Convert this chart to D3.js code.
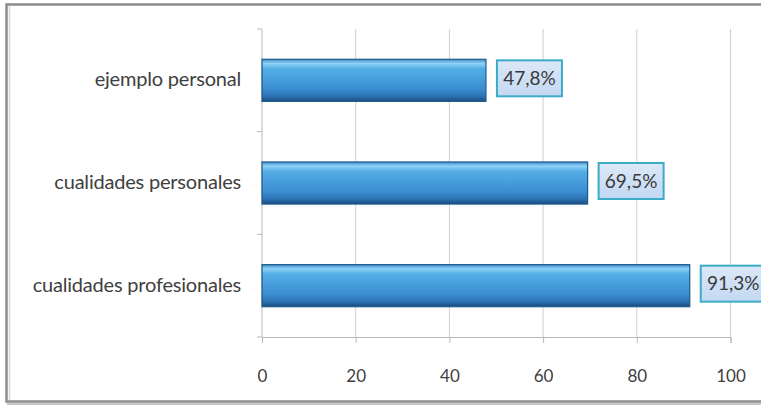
<!DOCTYPE html>
<html>
<head>
<meta charset="utf-8">
<script src="https://cdn.jsdelivr.net/npm/d3@7"></script>
<style>
  body { margin: 0; background: #fff; overflow: hidden; }
  svg { display: block; }
</style>
</head>
<body>
<div id="chart"></div>
<script>
const categories = ["ejemplo personal", "cualidades personales", "cualidades profesionales"];
const values = [47.8, 69.5, 91.3];
const xTicks = [0, 20, 40, 60, 80, 100];

const W = 761, H = 409;
const margin = { top: 29, right: 30, bottom: 72, left: 262 };
const width = W - margin.left - margin.right;
const height = H - margin.top - margin.bottom;

const data = categories.map((c, i) => ({ cat: c, val: values[i] }));
const esFmt = d3.formatLocale({ decimal: ",", thousands: ".", grouping: [3], currency: ["", "€"] }).format(".1f");

const svg = d3.select("#chart").append("svg")
  .attr("width", W)
  .attr("height", H);

// outer frame (right side is cut off in the original picture)
svg.append("rect")
  .attr("x", 6.5).attr("y", 4.5)
  .attr("width", 790).attr("height", 397)
  .attr("fill", "#fff")
  .attr("stroke", "#8c8c8c")
  .attr("stroke-width", 2.5);
svg.append("line")
  .attr("x1", 7).attr("x2", 790)
  .attr("y1", 404).attr("y2", 404)
  .attr("stroke", "#c4c4c4").attr("stroke-width", 2);
svg.append("line")
  .attr("x1", 9.5).attr("x2", 9.5)
  .attr("y1", 6).attr("y2", 400)
  .attr("stroke", "#d6d6d6").attr("stroke-width", 1.5);

const defs = svg.append("defs");
const grad = defs.append("linearGradient")
  .attr("id", "barGrad")
  .attr("x1", 0).attr("y1", 0).attr("x2", 0).attr("y2", 1);
grad.append("stop").attr("offset", "0%").attr("stop-color", "#3f8ccc");
grad.append("stop").attr("offset", "10%").attr("stop-color", "#8ed2f6");
grad.append("stop").attr("offset", "22%").attr("stop-color", "#55aee6");
grad.append("stop").attr("offset", "70%").attr("stop-color", "#3a8ed2");
grad.append("stop").attr("offset", "88%").attr("stop-color", "#2c72b2");
grad.append("stop").attr("offset", "100%").attr("stop-color", "#184c7e");

const boxGrad = defs.append("linearGradient")
  .attr("id", "boxGrad")
  .attr("x1", 0).attr("y1", 0).attr("x2", 0).attr("y2", 1);
boxGrad.append("stop").attr("offset", "0%").attr("stop-color", "#dbe8f8");
boxGrad.append("stop").attr("offset", "100%").attr("stop-color", "#c3d8f2");

const g = svg.append("g")
  .attr("transform", `translate(${margin.left},${margin.top})`);

const x = d3.scaleLinear().domain([0, 100]).range([0, width - 0.5]);
const y = d3.scaleBand().domain(categories).range([0, height]).paddingInner(0.59).paddingOuter(0.295);

// vertical gridlines
g.append("g")
  .selectAll("line")
  .data(xTicks.slice(1))
  .enter().append("line")
  .attr("x1", d => x(d)).attr("x2", d => x(d))
  .attr("y1", 0).attr("y2", height)
  .attr("stroke", "#d0d0d0")
  .attr("stroke-width", 1);

// x axis
const xAxis = g.append("g")
  .attr("transform", `translate(0,${height})`)
  .call(d3.axisBottom(x).tickValues(xTicks).tickSize(6).tickPadding(27));
xAxis.select(".domain").attr("stroke", "#b8b8b8");
xAxis.selectAll(".tick line").attr("stroke", "#b8b8b8");
xAxis.selectAll(".tick text")
  .attr("fill", "#404040")
  .style("font-family", "Lato, 'Open Sans', sans-serif")
  .style("font-size", "17px");

// y axis with ticks between categories
const yAxis = g.append("g");
yAxis.append("line")
  .attr("x1", 0).attr("x2", 0).attr("y1", 0).attr("y2", height)
  .attr("stroke", "#b8b8b8");
yAxis.selectAll(".sep")
  .data(d3.range(categories.length + 1))
  .enter().append("line")
  .attr("class", "sep")
  .attr("x1", -5).attr("x2", 0)
  .attr("y1", d => d * height / categories.length)
  .attr("y2", d => d * height / categories.length)
  .attr("stroke", "#b8b8b8");
yAxis.selectAll(".cat")
  .data(categories)
  .enter().append("text")
  .attr("class", "cat")
  .attr("x", -21)
  .attr("y", d => y(d) + y.bandwidth() / 2 - 1)
  .attr("dy", "0.35em")
  .attr("text-anchor", "end")
  .attr("fill", "#404040")
  .style("font-family", "Lato, 'Open Sans', sans-serif")
  .style("font-size", "20px")
  .style("letter-spacing", "-0.2px")
  .text(d => d);

// bars
g.selectAll(".bar")
  .data(data)
  .enter().append("rect")
  .attr("class", "bar")
  .attr("x", 0)
  .attr("y", d => y(d.cat))
  .attr("width", d => x(d.val))
  .attr("height", y.bandwidth())
  .attr("fill", "url(#barGrad)")
  .attr("stroke", "#1f5a8c")
  .attr("stroke-width", 1.2);

// data labels
const lab = g.selectAll(".lab")
  .data(data)
  .enter().append("g")
  .attr("class", "lab")
  .attr("transform", d => `translate(${x(d.val) + 11},${y(d.cat) + y.bandwidth() / 2 - 2})`);
lab.append("rect")
  .attr("x", 0).attr("y", -18)
  .attr("width", 65).attr("height", 36)
  .attr("fill", "url(#boxGrad)")
  .attr("stroke", "#3aacc6")
  .attr("stroke-width", 2);
lab.append("text")
  .attr("x", 32.5).attr("y", 0)
  .attr("dy", "0.35em")
  .attr("text-anchor", "middle")
  .attr("fill", "#3a3a3a")
  .style("font-family", "Lato, 'Open Sans', sans-serif")
  .style("font-size", "19px")
  .text(d => esFmt(d.val) + "%");
</script>
</body>
</html>
